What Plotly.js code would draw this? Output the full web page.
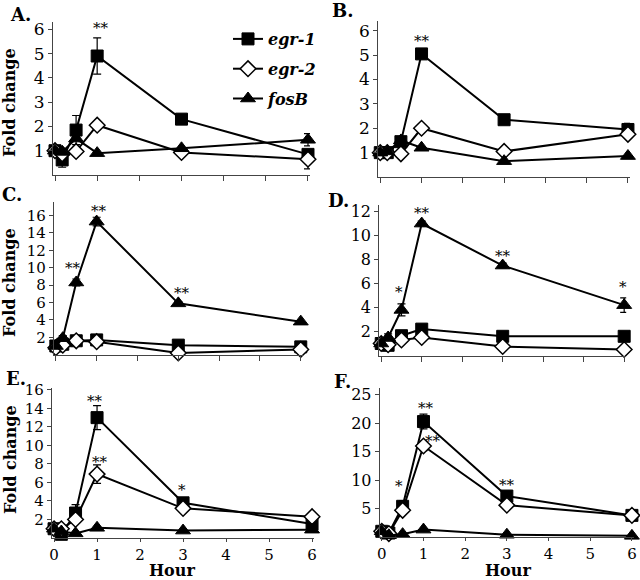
<!DOCTYPE html>
<html>
<head>
<meta charset="utf-8">
<script src="https://cdn.plot.ly/plotly-3.0.1.min.js"></script>
<style>
html,body{margin:0;padding:0;background:#fff;}
#chart{width:640px;height:580px;}
</style>
</head>
<body>
<div id="chart"></div>
<script>
// ---- data ----
const hours = [0, 0.17, 0.5, 1, 3, 6];
const xTickVals = [0, 1, 2, 3, 4, 5, 6];
const seriesNames = ['egr-1', 'egr-2', 'fosB'];
const panelLabels = ['A.', 'B.', 'C.', 'D.', 'E.', 'F.'];

// Panel A
const aEgr1 = [1.0, 0.62, 1.85, 4.9, 2.3, 0.85];
const aEgr1Err = [0, 0.3, 0.6, 0.75, 0, 0.1];
const aEgr2 = [1.0, 0.87, 0.97, 2.05, 0.93, 0.65];
const aEgr2Err = [0, 0, 0, 0, 0, 0.4];
const aFosB = [1.0, 0.95, 1.5, 0.9, 1.1, 1.45];
const aFosBErr = [0, 0, 0, 0, 0, 0.25];
// Panel B
const bEgr1 = [1.0, 1.0, 1.45, 5.05, 2.35, 1.95];
const bEgr1Err = [0, 0, 0, 0, 0, 0.25];
const bEgr2 = [1.0, 1.0, 0.95, 2.0, 1.05, 1.75];
const bEgr2Err = [0, 0, 0, 0, 0, 0];
const bFosB = [1.0, 1.05, 1.5, 1.2, 0.65, 0.86];
const bFosBErr = [0, 0, 0, 0, 0, 0];
// Panel C
const cEgr1 = [1.0, 1.2, 1.6, 1.7, 1.1, 0.9];
const cEgr1Err = [0, 0, 0, 0, 0, 0];
const cEgr2 = [0.8, 1.1, 1.6, 1.5, 0.2, 0.6];
const cEgr2Err = [0, 0, 0, 0, 0, 0];
const cFosB = [1.0, 1.9, 8.3, 15.3, 5.9, 3.8];
const cFosBErr = [0, 0.3, 0.4, 0.5, 0.2, 0];
// Panel D
const dEgr1 = [1.0, 0.85, 1.65, 2.2, 1.6, 1.6];
const dEgr1Err = [0, 0, 0, 0, 0, 0];
const dEgr2 = [1.0, 0.9, 1.3, 1.5, 0.75, 0.5];
const dEgr2Err = [0, 0, 0, 0, 0, 0];
const dFosB = [1.0, 1.5, 3.8, 11.0, 7.5, 4.2];
const dFosBErr = [0, 0.3, 0.5, 0.2, 0.2, 0.6];
// Panel E
const eEgr1 = [1.0, 0.4, 2.7, 13.0, 3.8, 1.5];
const eEgr1Err = [0, 0.2, 0.9, 1.3, 0.2, 0];
const eEgr2 = [1.0, 1.0, 2.0, 6.9, 3.2, 2.3];
const eEgr2Err = [0, 0, 0.3, 1.0, 0, 0];
const eFosB = [1.0, 0.7, 0.5, 1.1, 0.8, 0.9];
const eFosBErr = [0, 0, 0, 0, 0, 0];
// Panel F
const fEgr1 = [1.0, 0.7, 5.4, 20.3, 7.2, 3.8];
const fEgr1Err = [0, 0, 1.0, 1.3, 0, 0];
const fEgr2 = [1.0, 0.6, 4.7, 16.0, 5.6, 3.8];
const fEgr2Err = [0, 0, 0, 0.8, 0, 0];
const fFosB = [1.0, 0.3, 0.5, 1.3, 0.4, 0.2];
const fFosBErr = [0, 0, 0, 0, 0, 0];

// y-axis ticks per panel
const yTicksAB = [1, 2, 3, 4, 5, 6];
const yTicksC = [2, 4, 6, 8, 10, 12, 14, 16];
const yTicksD = [2, 4, 6, 8, 10, 12];
const yTicksE = [2, 4, 6, 8, 10, 12, 14, 16];
const yTicksF = [5, 10, 15, 20, 25];

// significance marks: panel index, hour, fold value, text
const starPanel = [0, 1, 2, 2, 2, 3, 3, 3, 3, 4, 4, 4, 5, 5, 5, 5];
const starX = [1.08, 1.02, 0.41, 1.05, 3.1, 0.45, 1.0, 3.0, 5.97, 0.96, 1.08, 2.98, 0.42, 1.07, 1.24, 3.0];
const starY = [6.05, 5.6, 10.0, 16.5, 7.1, 5.27, 11.9, 8.3, 5.7, 14.8, 8.2, 5.2, 8.9, 22.7, 16.9, 9.1];
const starText = ['**', '**', '**', '**', '**', '*', '**', '**', '*', '**', '**', '*', '*', '**', '**', '**'];

// ---- layout configuration (pixels) ----
const W = 640, H = 580;
const panels = [
  {series: [aEgr1, aEgr2, aFosB], errs: [aEgr1Err, aEgr2Err, aFosBErr], ticks: yTicksAB, yr: [0, 6.3],  xd: [52.9, 310.1], yd: [22, 175],  tf: 17, xlab: false},
  {series: [bEgr1, bEgr2, bFosB], errs: [bEgr1Err, bEgr2Err, bFosBErr], ticks: yTicksAB, yr: [0, 6.4],  xd: [378.2, 630],  yd: [21, 177],  tf: 17, xlab: false},
  {series: [cEgr1, cEgr2, cFosB], errs: [cEgr1Err, cEgr2Err, cFosBErr], ticks: yTicksC,  yr: [0, 17.55], xd: [53.8, 302.8], yd: [202, 354.7], tf: 15, xlab: false},
  {series: [dEgr1, dEgr2, dFosB], errs: [dEgr1Err, dEgr2Err, dFosBErr], ticks: yTicksD,  yr: [0, 12.55], xd: [379.2, 626.2], yd: [205, 355.5], tf: 16, xlab: false},
  {series: [eEgr1, eEgr2, eFosB], errs: [eEgr1Err, eEgr2Err, eFosBErr], ticks: yTicksE,  yr: [0, 16.2], xd: [51.9, 314.2], yd: [388, 538], tf: 15, xlab: true},
  {series: [fEgr1, fEgr2, fFosB], errs: [fEgr1Err, fEgr2Err, fFosBErr], ticks: yTicksF,  yr: [0, 26.2], xd: [379.7, 634],  yd: [388, 537], tf: 16, xlab: true}
];
const labelPos = [[20, 14], [342, 10], [12, 194], [338, 201], [16, 378], [342, 381]];

const serif = 'DejaVu Serif';
const axisColor = '#444';
const markerStyles = [
  {symbol: 'square', size: 12, color: '#000', line: {color: '#000', width: 1}},
  {symbol: 'diamond', size: 12, color: '#fff', line: {color: '#000', width: 1.5}},
  {symbol: 'triangle-up', size: 13, color: '#000', line: {color: '#000', width: 1}}
];

const traces = [];
const layout = {
  width: W, height: H,
  margin: {l: 0, r: 0, t: 0, b: 0},
  paper_bgcolor: '#fff', plot_bgcolor: 'rgba(0,0,0,0)',
  font: {family: serif, color: '#000'},
  showlegend: true,
  legend: {
    x: 228 / W, y: 1 - 22 / H, xanchor: 'left', yanchor: 'top',
    font: {family: serif, size: 16, color: '#000'},
    bgcolor: 'rgba(0,0,0,0)', tracegroupgap: 6, traceorder: 'grouped',
    itemwidth: 30
  },
  annotations: []
};

panels.forEach((p, i) => {
  const n = i + 1;
  const xa = 'x' + (n === 1 ? '' : n);
  const ya = 'y' + (n === 1 ? '' : n);
  p.series.forEach((vals, s) => {
    traces.push({
      type: 'scatter', mode: 'lines+markers',
      x: hours, y: vals,
      xaxis: xa, yaxis: ya,
      name: '<b><i>' + seriesNames[s] + '</i></b>',
      legendgroup: 'g' + s,
      showlegend: i === 0,
      line: {color: '#000', width: 2},
      marker: markerStyles[s],
      error_y: {type: 'data', array: p.errs[s], visible: true, color: '#000', thickness: 1.2, width: 4},
      cliponaxis: false,
      hoverinfo: 'x+y'
    });
  });
  layout['xaxis' + (n === 1 ? '' : n)] = {
    domain: [p.xd[0] / W, p.xd[1] / W],
    range: [-0.05, 6.05],
    anchor: ya,
    tickvals: xTickVals,
    ticks: 'outside', ticklen: p.xlab ? 3 : 5, tickcolor: axisColor, tickwidth: 1,
    showline: true, linecolor: axisColor, linewidth: 1,
    showgrid: false, zeroline: false,
    showticklabels: p.xlab,
    tickfont: {family: serif, size: 15, color: '#000'},
    fixedrange: true
  };
  layout['yaxis' + (n === 1 ? '' : n)] = {
    domain: [1 - p.yd[1] / H, 1 - p.yd[0] / H],
    range: p.yr,
    anchor: xa,
    tickvals: p.ticks,
    ticks: 'outside', ticklen: 4, tickcolor: axisColor, tickwidth: 1,
    showline: true, linecolor: axisColor, linewidth: 1,
    showgrid: false, zeroline: false,
    tickfont: {family: serif, size: p.tf, color: '#000'},
    fixedrange: true
  };
  layout.annotations.push({
    xref: 'paper', yref: 'paper', x: labelPos[i][0] / W, y: 1 - labelPos[i][1] / H,
    xanchor: 'center', yanchor: 'middle', showarrow: false,
    text: '<b>' + panelLabels[i] + '</b>',
    font: {family: serif, size: 18, color: '#000'}
  });
});

starText.forEach((t, k) => {
  const n = starPanel[k] + 1;
  layout.annotations.push({
    xref: 'x' + (n === 1 ? '' : n), yref: 'y' + (n === 1 ? '' : n),
    x: starX[k], y: starY[k], xanchor: 'center', yanchor: 'middle',
    showarrow: false, text: t,
    font: {family: serif, size: 15, color: '#000'}
  });
});

// axis titles
[[10, 103], [10, 283], [10, 460]].forEach(pos => {
  layout.annotations.push({
    xref: 'paper', yref: 'paper', x: pos[0] / W, y: 1 - pos[1] / H,
    xanchor: 'center', yanchor: 'middle', showarrow: false, textangle: -90,
    text: '<b>Fold change</b>',
    font: {family: serif, size: 16, color: '#000'}
  });
});
[[172, 581], [508, 581]].forEach(pos => {
  layout.annotations.push({
    xref: 'paper', yref: 'paper', x: pos[0] / W, y: 1 - pos[1] / H,
    xanchor: 'center', yanchor: 'bottom', showarrow: false, borderpad: 0,
    text: '<b>Hour</b>',
    font: {family: serif, size: 16, color: '#000'}
  });
});

Plotly.newPlot('chart', traces, layout, {displayModeBar: false, staticPlot: true});
</script>
</body>
</html>
